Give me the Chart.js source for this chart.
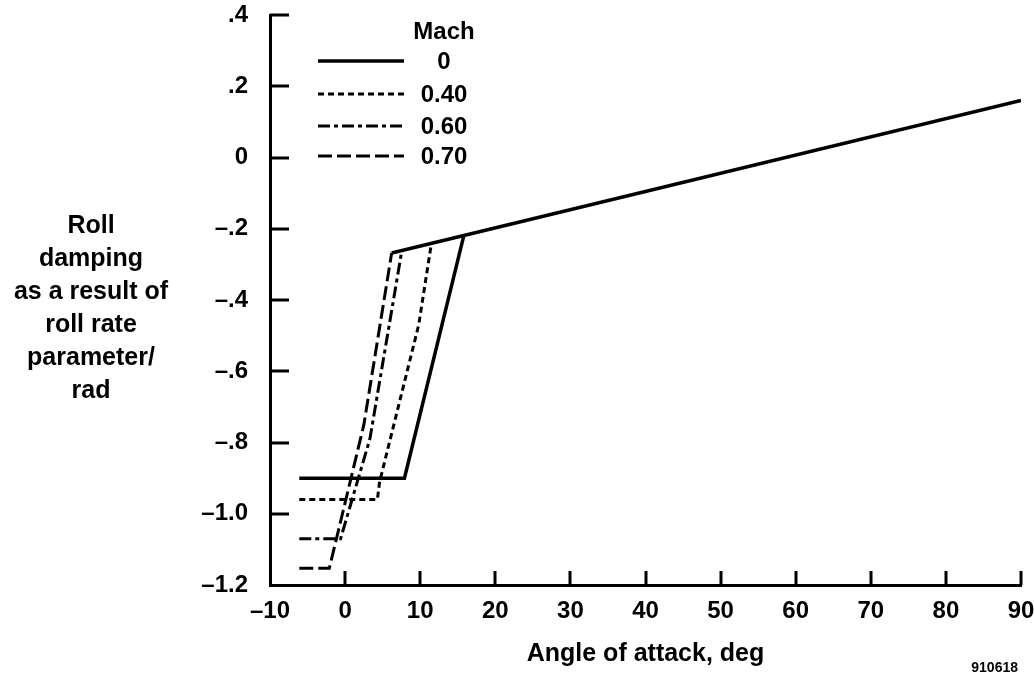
<!DOCTYPE html>
<html>
<head>
<meta charset="utf-8">
<script src="https://cdn.jsdelivr.net/npm/chart.js@4.4.1/dist/chart.umd.min.js"></script>
<style>
  html, body { margin: 0; padding: 0; background: #fff; }
  #wrap { width: 1034px; height: 676px; position: relative; }
</style>
</head>
<body>
<div id="wrap"><canvas id="chart" width="1034" height="676"></canvas></div>
<script>
// Roll damping derivative versus angle of attack, one curve per Mach number.
const machLabels = ['0', '0.40', '0.60', '0.70'];

const alphaM0  = [-6.1, 7.9, 15.8];
const dampM0   = [-0.90, -0.90, -0.22];

const alphaM40 = [-6.1, 4.3, 4.6, 9.8, 11.5];
const dampM40  = [-0.96, -0.96, -0.91, -0.47, -0.24];

const alphaM60 = [-6.1, -0.6, 3.3, 7.55];
const dampM60  = [-1.07, -1.07, -0.79, -0.262];

const alphaM70 = [-6.1, -2.1, 2.5, 6.2];
const dampM70  = [-1.153, -1.153, -0.75, -0.268];

// high angle-of-attack branch shared by all Mach numbers
const alphaUpper = [6.2, 90];
const dampUpper  = [-0.268, 0.16];

const xTickValues = [-10, 0, 10, 20, 30, 40, 50, 60, 70, 80, 90];
const yTickValues = [0.4, 0.2, 0, -0.2, -0.4, -0.6, -0.8, -1.0, -1.2];
const yTickLabels = ['.4', '.2', '0', '\u2013.2', '\u2013.4', '\u2013.6', '\u2013.8', '\u20131.0', '\u20131.2'];

const yTitleLines = ['Roll', 'damping', 'as a result of', 'roll rate', 'parameter/', 'rad'];
const xTitle = 'Angle of attack, deg';
const figureId = '910618';
const legendTitle = 'Mach';

const FONT = "'Liberation Sans', Arial, Helvetica, sans-serif";
const INK = '#000';

const pts = (xs, ys) => xs.map((x, i) => ({ x: x, y: ys[i] }));

const seriesStyle = [
  { dash: [], width: 3.5 },
  { dash: [6, 4], width: 3 },
  { dash: [12, 4, 4, 4], width: 3 },
  { dash: [14, 5], width: 3 }
];
const seriesData = [
  pts(alphaM0, dampM0),
  pts(alphaM40, dampM40),
  pts(alphaM60, dampM60),
  pts(alphaM70, dampM70)
];

const datasets = seriesData.map((d, i) => ({
  label: machLabels[i],
  data: d,
  borderColor: INK,
  borderWidth: seriesStyle[i].width,
  borderDash: seriesStyle[i].dash,
  inLegend: true
}));
datasets.push({
  label: 'upper branch',
  data: pts(alphaUpper, dampUpper),
  borderColor: INK,
  borderWidth: 3.5,
  borderDash: [],
  inLegend: false
});

// Tick marks pointing into the plot, plus the text blocks around it.
const decorations = {
  id: 'decorations',
  afterDraw(chart) {
    const { ctx, chartArea: a, scales: { x, y } } = chart;
    ctx.save();
    ctx.strokeStyle = INK;
    ctx.lineWidth = 3;
    ctx.lineCap = 'butt';
    ctx.beginPath();
    yTickValues.forEach(v => {
      if (v === -1.2) return;
      const py = Math.round(y.getPixelForValue(v));
      ctx.moveTo(a.left, py);
      ctx.lineTo(a.left + 19, py);
    });
    xTickValues.forEach(v => {
      if (v === -10) return;
      const px = Math.round(x.getPixelForValue(v));
      ctx.moveTo(px, a.bottom);
      ctx.lineTo(px, a.bottom - 14);
    });
    ctx.stroke();

    // vertical axis title, set horizontally in stacked lines
    ctx.fillStyle = INK;
    ctx.font = 'bold 25px ' + FONT;
    ctx.textAlign = 'center';
    ctx.textBaseline = 'alphabetic';
    yTitleLines.forEach((line, i) => ctx.fillText(line, 91, 233 + 33 * i));

    // legend
    ctx.font = 'bold 24px ' + FONT;
    ctx.textBaseline = 'middle';
    ctx.fillText(legendTitle, 444, 32);
    const rowY = [61, 94, 126, 156];
    chart.data.datasets.filter(ds => ds.inLegend).forEach((ds, i) => {
      ctx.save();
      ctx.lineWidth = ds.borderWidth;
      ctx.setLineDash(ds.borderDash);
      ctx.beginPath();
      ctx.moveTo(318, rowY[i]);
      ctx.lineTo(404, rowY[i]);
      ctx.stroke();
      ctx.restore();
      ctx.fillText(ds.label, 444, rowY[i] + 1);
    });

    // figure number
    ctx.font = 'bold 14px ' + FONT;
    ctx.textAlign = 'right';
    ctx.textBaseline = 'alphabetic';
    ctx.fillText(figureId, 1018, 672);
    ctx.restore();
  }
};

new Chart(document.getElementById('chart'), {
  type: 'scatter',
  data: { datasets: datasets },
  options: {
    responsive: false,
    animation: false,
    devicePixelRatio: 1,
    layout: { padding: { left: 0, right: 13, top: 15, bottom: 0 } },
    elements: {
      point: { radius: 0, hoverRadius: 0 },
      line: { tension: 0, fill: false, borderCapStyle: 'butt', borderJoinStyle: 'miter' }
    },
    datasets: { scatter: { showLine: true } },
    plugins: { legend: { display: false }, tooltip: { enabled: false } },
    scales: {
      x: {
        type: 'linear',
        min: -10,
        max: 90,
        afterBuildTicks: s => { s.ticks = xTickValues.map(v => ({ value: v })); },
        afterFit: s => {
          s.height = 91;
          s.paddingLeft = 0;
          s.paddingRight = 0;
        },
        grid: { display: true, drawOnChartArea: false, drawTicks: false },
        border: { display: true, color: INK, width: 3 },
        ticks: {
          color: INK,
          padding: 12,
          maxRotation: 0,
          autoSkip: false,
          font: { family: FONT, size: 24, weight: 'bold' },
          callback: v => (v < 0 ? '\u2013' + Math.abs(v) : String(v))
        },
        title: {
          display: true,
          text: xTitle,
          color: INK,
          font: { family: FONT, size: 25, weight: 'bold' },
          padding: { top: 0, bottom: 7 }
        }
      },
      y: {
        type: 'linear',
        min: -1.2,
        max: 0.4,
        afterBuildTicks: s => { s.ticks = yTickValues.map(v => ({ value: v })); },
        afterFit: s => {
          s.width = 270;
          s.paddingTop = 0;
          s.paddingBottom = 0;
        },
        grid: { display: true, drawOnChartArea: false, drawTicks: false },
        border: { display: true, color: INK, width: 3 },
        ticks: {
          color: INK,
          padding: 22,
          autoSkip: false,
          font: { family: FONT, size: 24, weight: 'bold' },
          callback: v => {
            const i = yTickValues.findIndex(t => Math.abs(t - v) < 1e-9);
            return i >= 0 ? yTickLabels[i] : '';
          }
        }
      }
    }
  },
  plugins: [decorations]
});
</script>
</body>
</html>
